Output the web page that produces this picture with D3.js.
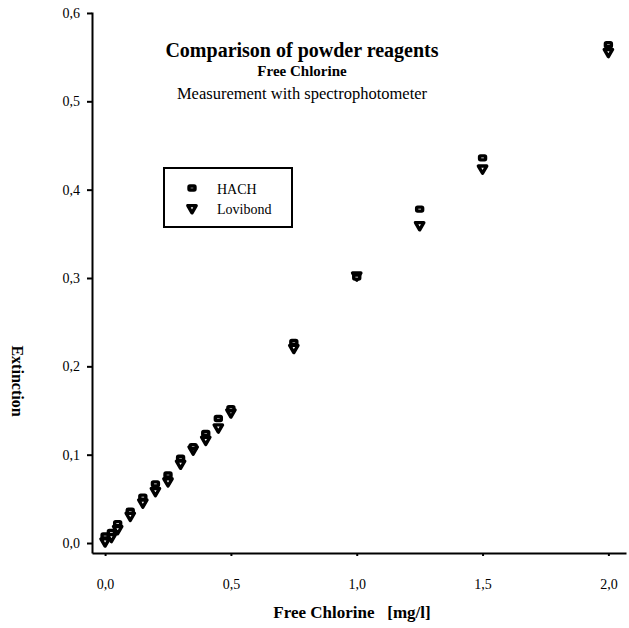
<!DOCTYPE html>
<meta charset="utf-8">
<html>
  <head>
    <style>
      body { margin: 0; background: #fff; }
      text { font-family: "Liberation Serif", "Times New Roman", serif; fill: #000; }
      .axis path, .axis line { stroke: #000; stroke-width: 2px; }
      .axis text { font-size: 14px; font-family: "Liberation Serif", "Times New Roman", serif; }
      .title { font-size: 20px; font-weight: bold; }
      .subtitle { font-size: 15px; font-weight: bold; }
      .subtitle2 { font-size: 16.5px; }
      .axis-title { font-size: 17px; font-weight: bold; }
      .legend-text { font-size: 14px; }
      .mark { fill: #fff; stroke: #000; stroke-width: 3.4px; stroke-linejoin: round; }
    </style>
    <script src="https://d3js.org/d3.v7.min.js"></script>
  </head>
  <body>
    <div id="chart"></div>
    <script type="text/javascript">
      // concentration of free chlorine [mg/l]
      var conc = [0, 0.025, 0.05, 0.1, 0.15, 0.2, 0.25, 0.3, 0.35, 0.4, 0.45, 0.5, 0.75, 1.0, 1.25, 1.5, 2.0];
      // extinction readings
      var hach     = [0.008, 0.012, 0.022, 0.036, 0.052, 0.067, 0.077, 0.096, 0.109, 0.124, 0.141, 0.152, 0.227, 0.301, 0.378, 0.436, 0.564];
      var lovibond = [0.002, 0.007, 0.016, 0.031, 0.046, 0.059, 0.070, 0.090, 0.106, 0.117, 0.131, 0.148, 0.221, 0.303, 0.360, 0.424, 0.556];
      var xTicks = [0, 0.5, 1.0, 1.5, 2.0];
      var yTicks = [0, 0.1, 0.2, 0.3, 0.4, 0.5, 0.6];

      var width = 629, height = 628;

      var svg = d3.select("#chart").append("svg")
          .attr("width", width)
          .attr("height", height);

      var x = d3.scaleLinear().domain([-0.052, 2.07]).range([92, 626]);
      var y = d3.scaleLinear().domain([-0.0113, 0.6011]).range([553, 12]);

      var comma = function(d) { return d3.format(".1f")(d).replace(".", ","); };

      svg.append("g")
          .attr("class", "axis")
          .attr("transform", "translate(0,553)")
          .call(d3.axisBottom(x).tickValues(xTicks).tickSize(3).tickSizeOuter(0).tickPadding(23).tickFormat(comma));

      svg.append("g")
          .attr("class", "axis")
          .attr("transform", "translate(92,0)")
          .call(d3.axisLeft(y).tickValues(yTicks).tickSize(5).tickSizeOuter(0).tickPadding(7).tickFormat(comma));

      // Lovibond first, HACH drawn on top
      var tri = d3.symbol().type(d3.symbolTriangle).size(30);
      svg.selectAll(".lov")
          .data(conc)
          .enter().append("path")
            .attr("class", "lov mark")
            .attr("d", tri)
            .attr("transform", function(d, i) { return "translate(" + x(d) + "," + y(lovibond[i]) + ") rotate(180)"; });

      svg.selectAll(".hach")
          .data(conc)
          .enter().append("rect")
            .attr("class", "hach mark")
            .attr("x", function(d) { return x(d) - 3; })
            .attr("y", function(d, i) { return y(hach[i]) - 2; })
            .attr("width", 6)
            .attr("height", 4)
            .attr("rx", 1);

      // titles
      svg.append("text").attr("class", "title").attr("x", 302).attr("y", 57)
          .style("text-anchor", "middle").text("Comparison of powder reagents");
      svg.append("text").attr("class", "subtitle").attr("x", 302).attr("y", 76)
          .style("text-anchor", "middle").text("Free Chlorine");
      svg.append("text").attr("class", "subtitle2").attr("x", 302).attr("y", 99)
          .style("text-anchor", "middle").text("Measurement with spectrophotometer");

      svg.append("text").attr("class", "axis-title").attr("x", 352).attr("y", 618)
          .style("text-anchor", "middle").style("white-space", "pre")
          .text("Free Chlorine   [mg/l]");

      svg.append("text").attr("class", "axis-title")
          .attr("transform", "translate(12,381) rotate(90)")
          .style("text-anchor", "middle")
          .style("font-size", "16px")
          .text("Extinction");

      // legend
      var legend = svg.append("g").attr("class", "legend");
      legend.append("rect")
          .attr("x", 164).attr("y", 168).attr("width", 128).attr("height", 59)
          .style("fill", "none").style("stroke", "#000").style("stroke-width", 2);
      legend.append("rect").attr("class", "mark")
          .attr("x", 189).attr("y", 186).attr("width", 6).attr("height", 4).attr("rx", 1);
      legend.append("path").attr("class", "mark")
          .attr("d", tri).attr("transform", "translate(192,208) rotate(180)");
      legend.append("text").attr("class", "legend-text").attr("x", 217).attr("y", 194).text("HACH");
      legend.append("text").attr("class", "legend-text").attr("x", 217).attr("y", 214).text("Lovibond");
    </script>
  </body>
</html>
